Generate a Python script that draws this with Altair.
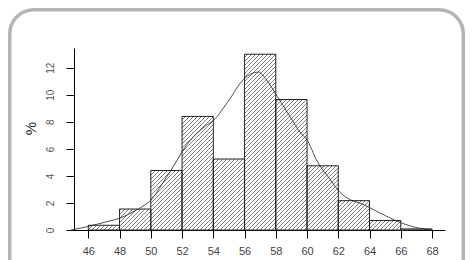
import altair as alt
import pandas as pd

# ---- data ----
bin_left = [46, 48, 50, 52, 54, 56, 58, 60, 62, 64, 66]
bin_right = [48, 50, 52, 54, 56, 58, 60, 62, 64, 66, 68]
percent = [0.35, 1.55, 4.4, 8.4, 5.25, 13.0, 9.65, 4.75, 2.17, 0.7, 0.08]

curve_x = [44.9, 45.9, 47.2, 48.0, 48.9, 49.6, 50.0, 50.5, 51.0, 51.5, 52.0, 52.5,
           53.0, 53.5, 54.0, 55.0, 55.9, 56.9, 57.4, 58.1, 58.9, 59.6, 60.0, 60.6,
           61.5, 62.1, 62.8, 63.4, 64.7, 66.0, 67.2, 67.9]
curve_y = [0.0, 0.24, 0.62, 0.87, 1.36, 1.85, 2.2, 3.0, 3.9, 4.8, 5.8, 6.6,
           7.2, 7.7, 8.1, 9.6, 11.1, 11.68, 11.1, 9.87, 8.4, 7.16, 6.67, 5.19,
           3.7, 2.8, 2.22, 1.98, 1.24, 0.54, 0.13, 0.03]

x_ticks = [46, 48, 50, 52, 54, 56, 58, 60, 62, 64, 66, 68]
y_ticks = [0, 2, 4, 6, 8, 10, 12]

# ---- layout ----
W, H = 377, 182
XMIN, XMAX = 44.70, 68.83
YMAX = 13.46
PAD = {"left": 60, "top": 40, "right": 20, "bottom": 30}

bars = pd.DataFrame({"x0": bin_left, "x1": bin_right, "h": percent})
curve = pd.DataFrame({"x": curve_x, "y": curve_y})

# hatch lines (///) clipped to each bar, computed in pixel space
KX = W / (XMAX - XMIN)
KY = H / YMAX
SP = 4.0
segs = []
for x0, x1, h in zip(bin_left, bin_right, percent):
    px0, px1 = (x0 - XMIN) * KX, (x1 - XMIN) * KX
    py1 = h * KY
    k0 = int((px0 - py1) // SP) - 1
    k1 = int(px1 // SP) + 1
    for k in range(k0, k1 + 1):
        c = k * SP
        sx = max(px0, c)
        ex = min(px1, c + py1)
        if ex - sx > 0.3:
            segs.append({"xa": XMIN + sx / KX, "ya": (sx - c) / KY,
                         "xb": XMIN + ex / KX, "yb": (ex - c) / KY})
hatch = pd.DataFrame(segs)

xs = alt.Scale(domain=[XMIN, XMAX], nice=False, zero=False)
ys = alt.Scale(domain=[0, YMAX], nice=False)

xax = alt.Axis(values=x_ticks, title=None, tickSize=8, labelPadding=7,
               labelFontSize=11, labelColor="#444444", grid=False, labelOverlap=False,
               domainColor="black", tickColor="black", labelFlush=False)
yax = alt.Axis(values=y_ticks, title="%", tickSize=8, labelPadding=16,
               labelFontSize=10, labelColor="#555555", labelAngle=270,
               labelAlign="center", labelBaseline="middle", grid=False, labelOverlap=False,
               domainColor="black", tickColor="black", offset=-6,
               titleFontSize=15, titleFontWeight="normal", titleColor="#222222",
               titleAngle=270, titleX=-44, titleY=80,
               titleAlign="center", titleBaseline="middle")

frame = alt.Chart(pd.DataFrame({"a": [0]})).mark_rect(
    cornerRadius=24, fillOpacity=0, stroke="#b4b4b4", strokeWidth=3.5
).encode(
    x=alt.value(1.75 - PAD["left"]), x2=alt.value(457 - 1.75 - PAD["left"]),
    y=alt.value(1.75 - PAD["top"]), y2=alt.value(320),
)

hatch_layer = alt.Chart(hatch).mark_rule(color="#555555", strokeWidth=0.75).encode(
    x=alt.X("xa:Q", scale=xs, axis=xax), x2="xb:Q",
    y=alt.Y("ya:Q", scale=ys, axis=yax), y2="yb:Q",
)

bar_layer = alt.Chart(bars).mark_rect(fillOpacity=0, stroke="#222222", strokeWidth=1).encode(
    x=alt.X("x0:Q", scale=xs, axis=xax), x2="x1:Q",
    y=alt.Y("h:Q", scale=ys, axis=yax), y2=alt.datum(0),
)

line_layer = alt.Chart(curve).mark_line(color="#222222", strokeWidth=0.8,
                                        interpolate="monotone").encode(
    x=alt.X("x:Q", scale=xs, axis=xax), y=alt.Y("y:Q", scale=ys, axis=yax),
)

chart = alt.layer(hatch_layer, bar_layer, line_layer, frame).properties(
    width=W, height=H,
    autosize=alt.AutoSizeParams(type="none"),
    padding=PAD,
    background="white",
).configure_view(stroke=None).configure_axis(
    labelFont="Liberation Sans", titleFont="Liberation Sans", domainWidth=1, tickWidth=1,
    labelOverlap=False
)

chart.save("out.html", embed_options={"renderer": "svg", "actions": False})
